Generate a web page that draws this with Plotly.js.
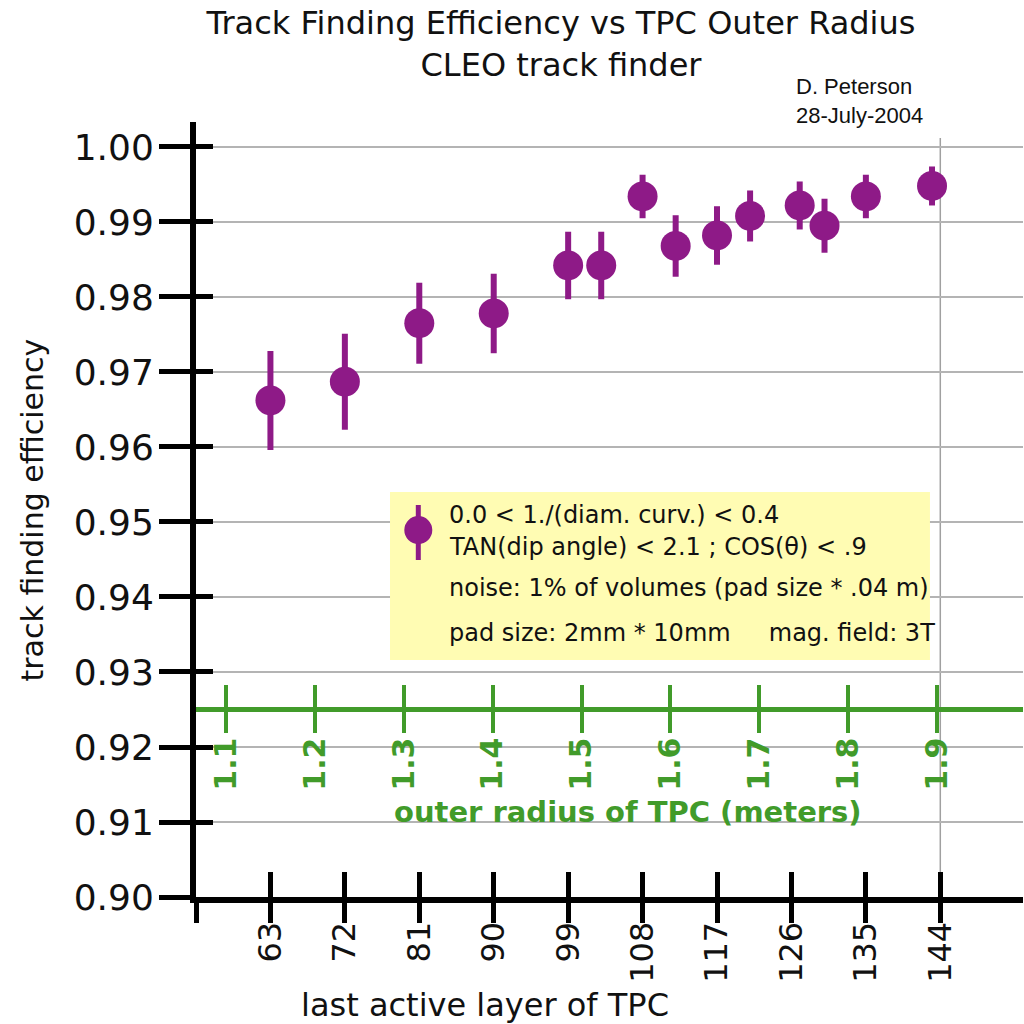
<!DOCTYPE html>
<html>
<head>
<meta charset="utf-8">
<script src="https://cdn.plot.ly/plotly-3.0.1.min.js"></script>
<style>
  html, body { margin: 0; padding: 0; background: #fff; }
  #chart { width: 1024px; height: 1024px; }
</style>
</head>
<body>
<div id="chart"></div>
<script>
// values
const layers = [63, 72, 81, 90, 99, 103, 108, 112, 117, 121, 127, 130, 135, 143];
const eff = [0.9662, 0.9687, 0.9765, 0.9778, 0.9842, 0.9842, 0.9934, 0.9868, 0.9882, 0.9908, 0.9922, 0.9895, 0.9934, 0.9948];
const effErr = [0.0066, 0.0064, 0.0054, 0.0053, 0.0045, 0.0045, 0.0029, 0.0041, 0.0039, 0.0034, 0.0032, 0.0036, 0.0029, 0.0026];

const layerTicks = [63, 72, 81, 90, 99, 108, 117, 126, 135, 144];
const radiusTicks = [1.1, 1.2, 1.3, 1.4, 1.5, 1.6, 1.7, 1.8, 1.9];
const effTicks = [0.90, 0.91, 0.92, 0.93, 0.94, 0.95, 0.96, 0.97, 0.98, 0.99, 1.00];

const legendLines = [
  "0.0 < 1./(diam. curv.) < 0.4",
  "TAN(dip angle) < 2.1 ; COS(θ) < .9",
  "noise: 1% of volumes (pad size * .04 m)",
  "pad size: 2mm * 10mm     mag. field: 3T"
];

const purple = "#8e1a87";
const green = "#419b2a";
const font = "DejaVu Sans, Verdana, sans-serif";

const layerRange = [54, 154];
const radiusRange = [1.0663, 1.9965];
const effRange = [0.9, 1.00333];
const radiusAxisPos = (0.925 - effRange[0]) / (effRange[1] - effRange[0]);

var trace = {
  x: layers,
  y: eff,
  error_y: { type: "data", array: effErr, visible: true, color: purple, thickness: 6, width: 0 },
  mode: "markers",
  type: "scatter",
  marker: { size: 30, color: purple },
  xaxis: "x",
  yaxis: "y",
  showlegend: false,
  hoverinfo: "skip"
};

// empty traces so the overlay axes get drawn
var dummy = function (xa, ya) {
  return { x: [], y: [], type: "scatter", mode: "markers", xaxis: xa, yaxis: ya, showlegend: false };
};

// legend box and marker, in paper units of the plot area
var legendLeft = 0.2346, legendRight = 0.8875, legendBottom = 0.3058, legendTop = 0.5226;
var keyX = 0.2688, keyY = 0.4735;

var shapes = [
  { type: "line", xref: "x", yref: "y", x0: layerTicks[layerTicks.length - 1], x1: layerTicks[layerTicks.length - 1],
    y0: effRange[0], y1: 1.0012, line: { color: "#a0a0a0", width: 1.5 }, layer: "below" },
  { type: "rect", xref: "paper", yref: "paper", x0: legendLeft, x1: legendRight, y0: legendBottom, y1: legendTop,
    fillcolor: "#fffcb3", line: { width: 0 }, layer: "above" },
  { type: "line", xref: "paper", yref: "paper", x0: keyX, x1: keyX, y0: 0.4348, y1: 0.5058,
    line: { color: purple, width: 5 }, layer: "above" },
  { type: "circle", xref: "paper", yref: "paper", xsizemode: "pixel", ysizemode: "pixel",
    xanchor: keyX, yanchor: keyY, x0: -14, x1: 14, y0: -14, y1: 14,
    fillcolor: purple, line: { width: 0 }, layer: "above" }
];

var legendYs = [0.4929, 0.4516, 0.3987, 0.3406];
var annotations = legendLines.map(function (t, i) {
  return {
    text: t, xref: "paper", yref: "paper", x: 0.3031, y: legendYs[i],
    xanchor: "left", yanchor: "middle", showarrow: false,
    font: { family: font, size: 24, color: "#111" }
  };
});

annotations.push({
  text: "D. Peterson<br>28-July-2004", xref: "paper", yref: "paper", x: 0.7231, y: 1.0271,
  xanchor: "left", yanchor: "middle", align: "left", showarrow: false,
  font: { family: "Liberation Sans, Arial, sans-serif", size: 22, color: "#111" }
});
annotations.push({
  text: "last active layer of TPC", xref: "paper", yref: "paper", x: 0.3495, y: -0.1394,
  xanchor: "center", yanchor: "middle", showarrow: false,
  font: { family: font, size: 32, color: "#111" }
});
annotations.push({
  text: "<b>outer radius of TPC (meters)</b>", xref: "paper", yref: "paper", x: 0.5224, y: 0.1101,
  xanchor: "center", yanchor: "middle", showarrow: false,
  font: { family: font, size: 29, color: green }
});
annotations.push({
  text: "track finding efficiency", xref: "paper", yref: "paper", x: -0.1971, y: 0.5,
  xanchor: "center", yanchor: "middle", textangle: -90, showarrow: false,
  font: { family: font, size: 30, color: "#111" }
});

var layout = {
  width: 1024,
  height: 1024,
  margin: { l: 196, r: 1, t: 122, b: 127, pad: 0 },
  paper_bgcolor: "#ffffff",
  plot_bgcolor: "#ffffff",
  showlegend: false,
  title: {
    text: "Track Finding Efficiency vs TPC Outer Radius<br>CLEO track finder",
    font: { family: font, size: 32, color: "#111" },
    x: 561 / 1024, xanchor: "center", xref: "container",
    y: 1 - 34 / 1024, yanchor: "top", yref: "container"
  },
  xaxis: {
    range: layerRange, tickmode: "array",
    tickvals: [layerRange[0]].concat(layerTicks),
    ticktext: [""].concat(layerTicks.map(String)),
    ticks: "outside", ticklen: 20, tickwidth: 5, tickcolor: "#000",
    tickangle: -90, tickfont: { family: font, size: 32, color: "#111" }, ticklabelstandoff: -14,
    showline: true, linewidth: 6, linecolor: "#000",
    showgrid: false, zeroline: false, automargin: false, fixedrange: true
  },
  xaxis3: {
    overlaying: "x", anchor: "y", side: "bottom", range: layerRange,
    tickmode: "array", tickvals: layerTicks,
    ticks: "inside", ticklen: 25, tickwidth: 5, tickcolor: "#000",
    showticklabels: false, showline: false, showgrid: false, zeroline: false, automargin: false
  },
  xaxis2: {
    overlaying: "x", anchor: "free", position: radiusAxisPos, side: "bottom", range: radiusRange,
    tickmode: "array", tickvals: radiusTicks, tickformat: ".1f",
    ticks: "outside", ticklen: 21, tickwidth: 4, tickcolor: green,
    tickangle: -90, tickfont: { family: font, size: 30, color: green, weight: "bold" }, ticklabelstandoff: -8,
    showline: true, linewidth: 5, linecolor: green,
    showgrid: false, zeroline: false, automargin: false
  },
  xaxis4: {
    overlaying: "x", anchor: "free", position: radiusAxisPos, side: "bottom", range: radiusRange,
    tickmode: "array", tickvals: radiusTicks,
    ticks: "inside", ticklen: 24, tickwidth: 4, tickcolor: green,
    showticklabels: false, showline: false, showgrid: false, zeroline: false, automargin: false
  },
  yaxis: {
    range: effRange, tickmode: "array", tickvals: effTicks, tickformat: ".2f",
    ticks: "outside", ticklen: 31, tickwidth: 5, tickcolor: "#000",
    tickfont: { family: font, size: 36, color: "#111" }, ticklabelstandoff: -2,
    showline: true, linewidth: 6, linecolor: "#000",
    showgrid: true, gridcolor: "#b4b4b4", gridwidth: 1.5,
    zeroline: false, automargin: false, fixedrange: true
  },
  yaxis2: {
    overlaying: "y", anchor: "x", side: "left", range: effRange,
    tickmode: "array", tickvals: effTicks,
    ticks: "inside", ticklen: 17, tickwidth: 5, tickcolor: "#000",
    showticklabels: false, showline: false, showgrid: false, zeroline: false, automargin: false
  },
  shapes: shapes,
  annotations: annotations
};

var data = [trace, dummy("x3", "y"), dummy("x2", "y"), dummy("x4", "y"), dummy("x", "y2")];
Plotly.newPlot("chart", data, layout, { staticPlot: true, displayModeBar: false });
</script>
</body>
</html>
